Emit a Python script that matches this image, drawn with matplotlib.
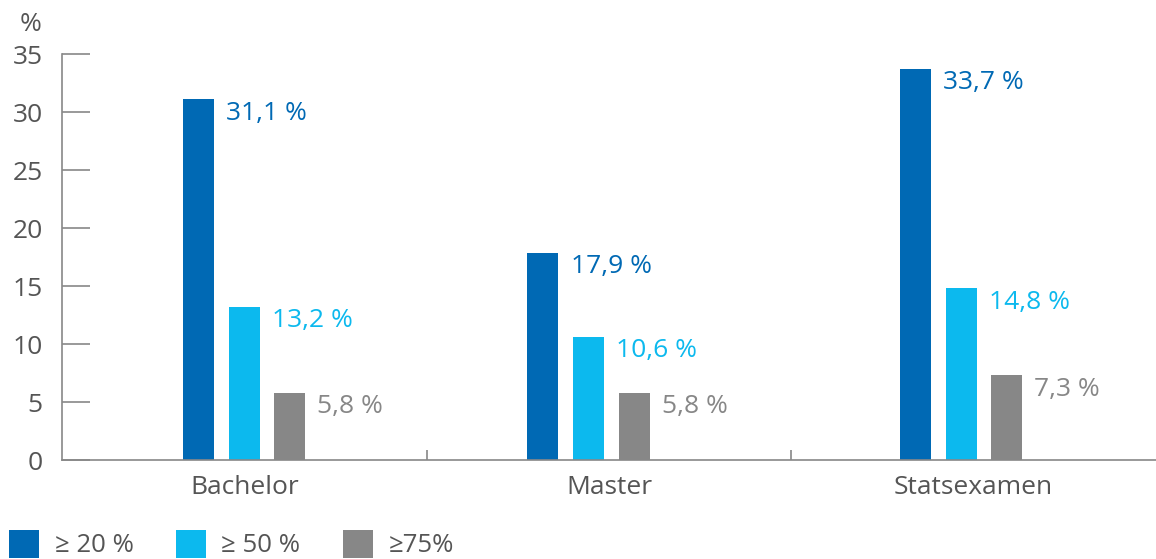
import matplotlib.pyplot as plt
from matplotlib.patches import Patch
import numpy as np

plt.rcParams['font.family'] = ['Open Sans', 'DejaVu Sans']

categories = ["Bachelor", "Master", "Statsexamen"]
series_names = ["≥ 20 %", "≥ 50 %", "≥75%"]
v20 = [31.1, 17.9, 33.7]
v50 = [13.2, 10.6, 14.8]
v75 = [5.8, 5.8, 7.3]
value_labels = [["31,1 %", "17,9 %", "33,7 %"],
                ["13,2 %", "10,6 %", "14,8 %"],
                ["5,8 %", "5,8 %", "7,3 %"]]
yticks = [0, 5, 10, 15, 20, 25, 30, 35]

colors = ['#0069b4', '#0cb9ee', '#878787']
grey_txt = '#555555'

fig = plt.figure(figsize=(11.56, 5.59), dpi=100)
ax = fig.add_axes([0.0536, 0.177, 0.9464, 0.726])

x = np.arange(len(categories))
# bar groups are not quite centred under their labels in the original
shift = np.array([0.0, -0.056, -0.034])
w = 0.085
step = 0.125
for i, vals in enumerate([v20, v50, v75]):
    xs = x + shift + (i - 1) * step
    ax.bar(xs, vals, width=w, color=colors[i], zorder=2)
    for xi, v, lab in zip(xs, vals, value_labels[i]):
        ax.text(xi + w / 2 + 0.033, v - 0.1, lab, color=colors[i], fontsize=19,
                ha='left', va='top')

ax.set_xlim(-0.5, 2.5)
ax.set_ylim(0, 35)
ax.set_yticks(yticks)
ax.set_xticks(x)
ax.set_xticklabels(categories)
ax.set_xticks([0.5, 1.5], minor=True)

for s in ['top', 'right']:
    ax.spines[s].set_visible(False)
for s in ['left', 'bottom']:
    ax.spines[s].set_color('#888888')
    ax.spines[s].set_linewidth(1.2)

ax.tick_params(axis='y', direction='in', length=20, width=1.2, color='#888888',
               labelsize=19, labelcolor=grey_txt, pad=14)
ax.tick_params(axis='x', which='major', length=0, labelsize=19,
               labelcolor=grey_txt, pad=11)
ax.tick_params(axis='x', which='minor', direction='in', length=7, width=1.2,
               color='#888888')

fig.text(0.017, 0.945, "%", fontsize=19, color=grey_txt)

handles = [Patch(facecolor=c) for c in colors]
fig.legend(handles, series_names, loc='upper left', bbox_to_anchor=(-0.001, 0.071),
           ncol=3, frameon=False, fontsize=18.5, labelcolor=grey_txt,
           handlelength=1.17, handleheight=1.3, handletextpad=0.6,
           columnspacing=1.65, borderaxespad=0)

fig.savefig('out.png', dpi=100)
